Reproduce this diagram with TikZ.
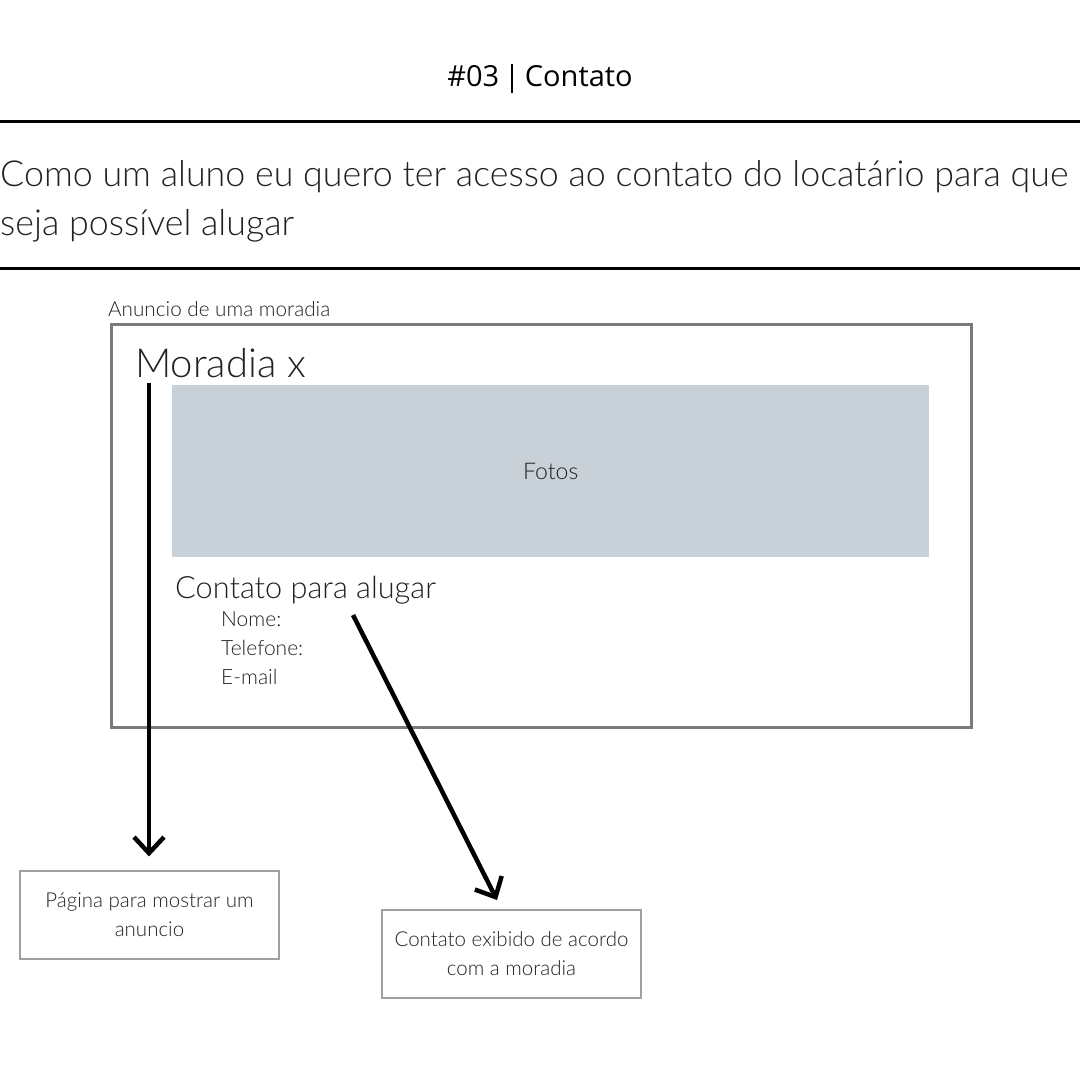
\documentclass[tikz,border=0pt]{standalone}
\usepackage{fontspec}
\setmainfont{Lato}[UprightFont={* Light}]
\newfontfamily\titlefont{Open Sans}
\usetikzlibrary{arrows.meta}
\definecolor{fotogray}{HTML}{C8D0D8}
\definecolor{framegray}{HTML}{7A7A7A}
\definecolor{boxgray}{HTML}{A0A0A0}
\definecolor{txt}{HTML}{222222}
\begin{document}
\begin{tikzpicture}[x=1pt,y=-1pt,
  rule/.style={line width=3pt,black},
  flowarrow/.style={line width=4.5pt,black,-{Straight Barb[length=16pt,width=30pt,line width=4.5pt]}},
  outbox/.style={draw=boxgray,line width=1.2pt,minimum width=259pt,minimum height=88pt,align=center,inner sep=0pt,font=\fontsize{20.5}{29}\selectfont,text=txt},
  fs/.style={font=\fontsize{#1}{#1}\selectfont},
]
\useasboundingbox (0,0) rectangle (1080,1080);
\fill[white] (0,0) rectangle (1080,1080);
\node[anchor=base,font=\titlefont\fontsize{29}{29}\selectfont] (title) at (540,86) {\#03\,|\,Contato};
\coordinate (r1l) at (0,121); \coordinate (r1r) at (1080,121);
\draw[rule] (r1l) -- (r1r);
\node[fs=35.8,anchor=base west,inner sep=0pt,text=txt] (story1) at (0,186) {Como um aluno eu quero ter acesso ao contato do locatário para que};
\node[fs=35.8,anchor=base west,inner sep=0pt,text=txt] (story2) at (0,235) {seja possível alugar};
\coordinate (r2l) at (0,268); \coordinate (r2r) at (1080,268);
\draw[rule] (r2l) -- (r2r);
\node[fs=20.7,anchor=base west,inner sep=0pt,text=txt] (anlabel) at (108,316) {Anuncio de uma moradia};
\node[draw=framegray,line width=3pt,minimum width=860pt,minimum height=403pt,inner sep=0pt,anchor=north west] (frame) at (110,323) {};
\node[fs=40,anchor=base west,inner sep=0pt,text=txt] (moradia) at (135,377) {Moradia x};
\node[fill=fotogray,minimum width=757pt,minimum height=172pt,inner sep=0pt,anchor=north west] (fotos) at (172,385) {};
\node[fs=23,text=txt] (fotostxt) at (fotos.center) {Fotos};
\node[fs=30.7,anchor=base west,inner sep=0pt,text=txt] (contato) at (175,598) {Contato para alugar};
\node[fs=21,anchor=base west,inner sep=0pt,text=txt] (nome) at (221,626) {Nome:};
\node[fs=21,anchor=base west,inner sep=0pt,text=txt] (tel) at (221,655) {Telefone:};
\node[fs=21,anchor=base west,inner sep=0pt,text=txt] (email) at (221,684) {E-mail};
\node[outbox] (pagina) at (149.5,915) {Página para mostrar um\\anuncio};
\node[outbox] (exibido) at (511.5,954) {Contato exibido de acordo\\com a moradia};
\coordinate (a1s) at (149,383);
\coordinate (a2s) at (353,615);
\coordinate (a2e) at (497,900);
\draw[flowarrow,shorten >=14pt] (a1s) -- (pagina.north -| a1s);
\draw[flowarrow] (a2s) -- (a2e);
\end{tikzpicture}
\end{document}
